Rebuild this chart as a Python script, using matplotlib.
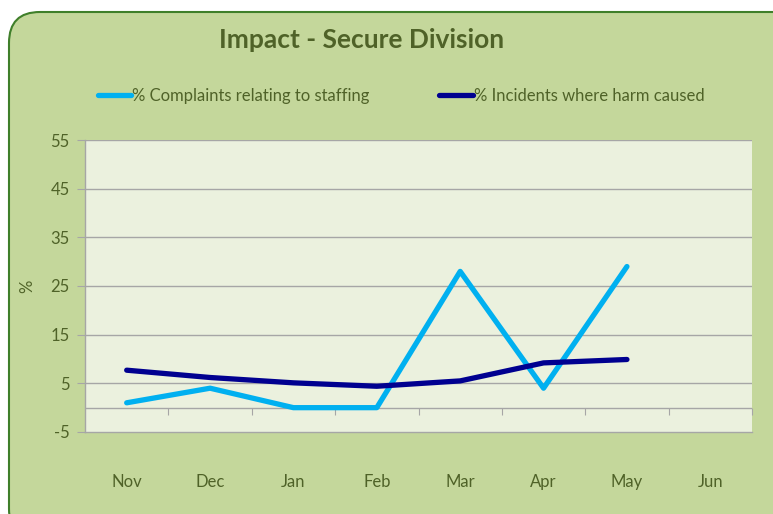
import matplotlib
matplotlib.use("Agg")
import matplotlib.pyplot as plt
from matplotlib.patches import FancyBboxPatch
from matplotlib.lines import Line2D

months = ["Nov", "Dec", "Jan", "Feb", "Mar", "Apr", "May", "Jun"]
complaints = [1.0, 4.0, 0.0, 0.0, 28.0, 4.0, 29.0]
incidents = [7.7, 6.2, 5.1, 4.4, 5.5, 9.2, 9.9]
yticks = [-5, 5, 15, 25, 35, 45, 55]

title = "Impact - Secure Division"
label_complaints = "% Complaints relating to staffing"
label_incidents = "% Incidents where harm caused"

txt = "#4F6228"
grid_c = "#A6A6A6"
c_comp = "#00B0F0"
c_inc = "#000090"

plt.rcParams['font.family'] = ['Lato', 'DejaVu Sans']

W, H = 773, 514
fig = plt.figure(figsize=(W / 100, H / 100), dpi=100)
fig.patch.set_facecolor("white")

# outer rounded panel
bg = FancyBboxPatch((9 / W, -0.05), 1.05, 1 - 12 / H + 0.05,
                    boxstyle="round,pad=0,rounding_size=0.04",
                    transform=fig.transFigure, facecolor="#C4D79B",
                    edgecolor="#3F7F2A", linewidth=1.5, zorder=0,
                    mutation_aspect=W / H)
fig.patches.append(bg)

ax = fig.add_axes([85 / W, 1 - 432 / H, (752 - 85) / W, (432 - 140) / H])
ax.set_facecolor("#EBF1DE")
ax.set_zorder(2)

x = list(range(len(complaints)))
ax.plot(x, complaints, color=c_comp, lw=3.8, solid_joinstyle="round",
        solid_capstyle="round", zorder=4)
ax.plot(x, incidents, color=c_inc, lw=3.8, solid_joinstyle="round",
        solid_capstyle="round", zorder=5)

ax.set_xlim(-0.5, len(months) - 0.5)
ax.set_ylim(-5, 55)
ax.set_yticks(yticks)
ax.set_yticklabels([str(v) for v in yticks], color=txt, fontsize=12)
for v in yticks[1:]:
    ax.axhline(v, color=grid_c, lw=1.0, zorder=1)
ax.axhline(0, color=grid_c, lw=1.0, zorder=1)

ax.set_xticks(range(len(months)))
ax.set_xticklabels(months, color=txt, fontsize=12)
ax.tick_params(axis="x", length=0, pad=30)
ax.tick_params(axis="y", length=6, color=grid_c, pad=5)

for s in ["top", "right"]:
    ax.spines[s].set_visible(False)
for s in ["left", "bottom"]:
    ax.spines[s].set_color(grid_c)
    ax.spines[s].set_linewidth(1.0)

# category-boundary ticks on the zero line
sec = ax.secondary_xaxis(5 / 60)
sec.set_xticks([i + 0.5 for i in range(len(months))])
sec.set_xticklabels([])
sec.tick_params(axis="x", length=5, color=grid_c, direction="out")
sec.spines["bottom"].set_visible(False)

ax.set_ylabel("%", color=txt, fontsize=12)
ax.yaxis.set_label_coords(-0.075, 0.5)

fig.text(362 / W, 1 - 40 / H, title, ha="center", va="center",
         fontsize=19, fontweight="bold", color=txt)

handles = [Line2D([], [], color=c_comp, lw=3.8, solid_capstyle="round"),
           Line2D([], [], color=c_inc, lw=3.8, solid_capstyle="round")]
fig.legend(handles, [label_complaints, label_incidents], loc="center",
           bbox_to_anchor=(401 / W, 1 - 96 / H), ncol=2, frameon=False,
           fontsize=12, labelcolor=txt, handlelength=2.0, handletextpad=0.05,
           columnspacing=4.2)

fig.savefig("out.png", dpi=100, facecolor=fig.get_facecolor())
